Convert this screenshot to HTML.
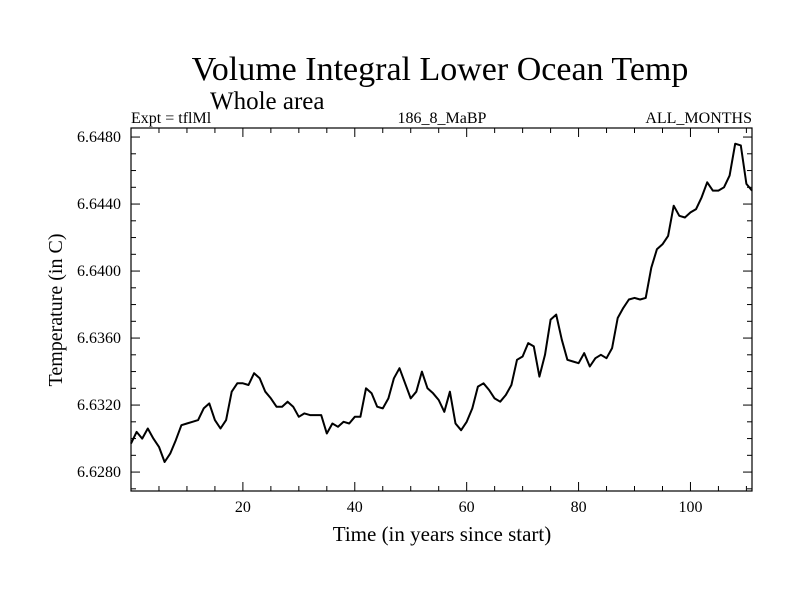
<!DOCTYPE html>
<html><head><meta charset="utf-8"><style>
body{margin:0;background:#fff;}
svg{display:block;font-family:"Liberation Serif",serif;}
</style></head><body>
<svg id="chart" width="800" height="600">
<rect width="800" height="600" fill="#fff"/>
<text x="440" y="80" font-size="34" text-anchor="middle">Volume Integral Lower Ocean Temp</text>
<text x="210" y="109" font-size="25">Whole area</text>
<text x="131" y="123" font-size="16">Expt = tflMl</text>
<text x="442" y="123" font-size="16" text-anchor="middle">186_8_MaBP</text>
<text x="752" y="123" font-size="16" text-anchor="end">ALL_MONTHS</text>
<text x="442" y="541" font-size="21" text-anchor="middle">Time (in years since start)</text>
<text transform="translate(62,310) rotate(-90)" font-size="20" text-anchor="middle">Temperature (in C)</text>
<g id="axes"></g>
<rect x="131" y="128" width="621" height="363" fill="none" stroke="#000" stroke-width="1.2"/>
</svg>
<script>
const temps=[6.6297,6.6304,6.6300,6.6306,6.6300,6.6295,6.6286,6.6291,6.6299,6.6308,6.6309,6.6310,6.6311,6.6318,6.6321,6.6311,6.6306,6.6311,6.6328,6.6333,6.6333,6.6332,6.6339,6.6336,6.6328,6.6324,6.6319,6.6319,6.6322,6.6319,6.6313,6.6315,6.6314,6.6314,
6.6314,6.6303,6.6309,6.6307,6.6310,6.6309,6.6313,6.6313,6.6330,6.6327,6.6319,6.6318,6.6324,6.6336,6.6342,6.6333,6.6324,6.6328,6.6340,6.6330,6.6327,6.6323,6.6316,6.6328,6.6309,6.6305,6.6310,6.6318,6.6331,6.6333,6.6329,6.6324,6.6322,6.6326,6.6332,6.6347,
6.6349,6.6357,6.6355,6.6337,6.6350,6.6371,6.6374,6.6359,6.6347,6.6346,6.6345,6.6351,6.6343,6.6348,6.6350,6.6348,6.6354,6.6372,6.6378,6.6383,6.6384,6.6383,6.6384,6.6402,6.6413,6.6416,6.6421,6.6439,6.6433,6.6432,6.6435,6.6437,6.6444,6.6453,6.6448,6.6448,6.6450,6.6457,6.6476,6.6475,6.6452,6.6448];
const years=temps.map((_,i)=>i);
const xTicks=[20,40,60,80,100];
const yTicks=[6.6280,6.6320,6.6360,6.6400,6.6440,6.6480];
const X0=131,X1=752,Y0=491,Y1=128;
const xMin=0,xMax=111,yMin=6.62687,yMax=6.64854;
const sx=v=>X0+(v-xMin)/(xMax-xMin)*(X1-X0);
const sy=v=>Y0-(v-yMin)/(yMax-yMin)*(Y0-Y1);
const NS='http://www.w3.org/2000/svg';
const g=document.getElementById('axes');
function ln(x1,y1,x2,y2,name){const l=document.createElementNS(NS,'line');l.setAttribute('x1',x1);l.setAttribute('y1',y1);l.setAttribute('x2',x2);l.setAttribute('y2',y2);l.setAttribute('stroke','#000');l.setAttribute('stroke-width','1');


g.appendChild(l);}
for(let v=5;v<xMax;v+=5){const x=sx(v);const major=v%20===0;const L=major?9:5;ln(x,Y0,x,Y0-L,'x-tick');ln(x,Y1,x,Y1+L,'x-tick-top');}
for(let k=0;;k++){const v=6.6270+k*0.001;if(v>yMax)break;if(v<yMin)continue;const y=sy(v);const major=Math.abs(((v-6.628)/0.004)-Math.round((v-6.628)/0.004))<1e-3;const L=major?9:5;ln(X0,y,X0+L,y,'y-tick');ln(X1,y,X1-L,y,'y-tick-right');}
xTicks.forEach(v=>{const t=document.createElementNS(NS,'text');t.setAttribute('x',sx(v));t.setAttribute('y',512);t.setAttribute('font-size','16');t.setAttribute('text-anchor','middle');t.textContent=v;


g.appendChild(t);});
yTicks.forEach(v=>{const t=document.createElementNS(NS,'text');t.setAttribute('x',121);t.setAttribute('y',sy(v)+5);t.setAttribute('font-size','16');t.setAttribute('text-anchor','end');t.textContent=v.toFixed(4);


g.appendChild(t);});
const p=document.createElementNS(NS,'polyline');
p.setAttribute('points',temps.map((v,i)=>sx(years[i]).toFixed(1)+','+sy(v).toFixed(1)).join(' '));
p.setAttribute('fill','none');p.setAttribute('stroke','#000');p.setAttribute('stroke-width','2');p.setAttribute('stroke-linejoin','round');


g.appendChild(p);
</script>
</body></html>
